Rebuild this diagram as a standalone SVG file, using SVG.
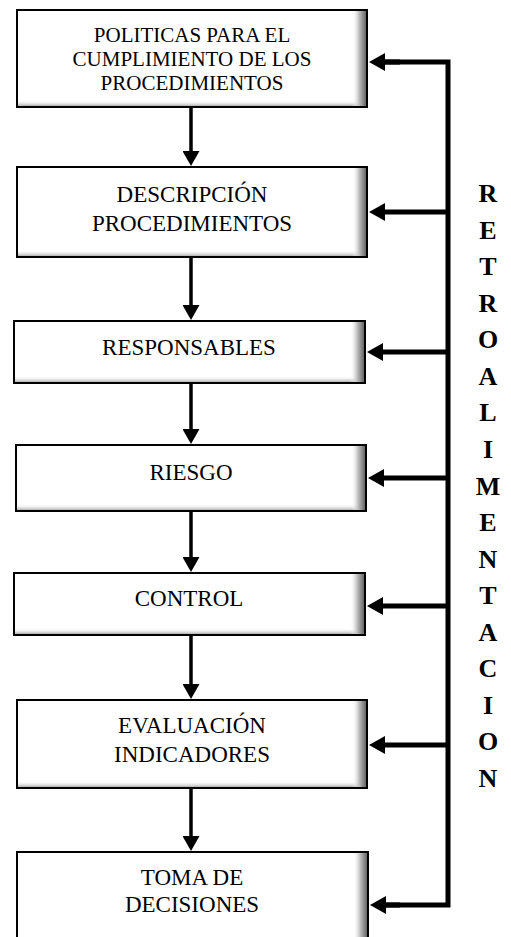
<svg xmlns="http://www.w3.org/2000/svg" width="511" height="937" viewBox="0 0 511 937">
<defs>
<style>
.box{fill:#fff;stroke:#000;stroke-width:2}
.sr{fill:url(#gr)}
.sb{fill:url(#gb)}
.t{font-family:"Liberation Serif","Times New Roman",serif;font-size:23px;fill:#000;text-anchor:middle}
.t1{font-size:21px}
.fb{font-family:"Liberation Serif","Times New Roman",serif;font-size:26px;font-weight:bold;fill:#000;text-anchor:middle}
.down{stroke:#000;stroke-width:3.5;fill:none;marker-end:url(#ah)}
.back{stroke:#000;stroke-width:5;fill:none;marker-end:url(#ah2)}
.trunk{stroke:#000;stroke-width:5;fill:none;stroke-linejoin:miter}
</style>
<linearGradient id="gr" x1="0" y1="0" x2="1" y2="0">
<stop offset="0" stop-color="#fff" stop-opacity="0"/>
<stop offset="0.5" stop-color="#c0c0c0"/>
<stop offset="1" stop-color="#666"/>
</linearGradient>
<linearGradient id="gb" x1="0" y1="0" x2="0" y2="1">
<stop offset="0" stop-color="#fff" stop-opacity="0"/>
<stop offset="1" stop-color="#b0b0b0"/>
</linearGradient>
<marker id="ah" viewBox="0 0 15 17" refX="1" refY="8.5" markerWidth="15" markerHeight="17" markerUnits="userSpaceOnUse" orient="auto">
<path d="M0,0 L15,8.5 L0,17 Z" fill="#000"/>
</marker>
<marker id="ah2" viewBox="0 0 16 18" refX="1" refY="9" markerWidth="16" markerHeight="18" markerUnits="userSpaceOnUse" orient="auto">
<path d="M0,0 L16,9 L0,18 Z" fill="#000"/>
</marker>
</defs>

<g id="n1">
<rect class="box" x="17" y="10" width="350" height="97"/>
<rect class="sb" x="18" y="100" width="348" height="6"/>
<rect class="sr" x="352" y="11" width="14" height="95"/>
<text class="t t1" x="192" y="42">POLITICAS PARA EL</text>
<text class="t t1" x="192" y="66">CUMPLIMIENTO DE LOS</text>
<text class="t t1" x="192" y="90">PROCEDIMIENTOS</text>
</g>

<g id="n2">
<rect class="box" x="17" y="167" width="350" height="90"/>
<rect class="sb" x="18" y="250" width="348" height="6"/>
<rect class="sr" x="352" y="168" width="14" height="88"/>
<text class="t" x="192" y="202">DESCRIPCIÓN</text>
<text class="t" x="192" y="231">PROCEDIMIENTOS</text>
</g>

<g id="n3">
<rect class="box" x="14" y="321" width="351" height="62"/>
<rect class="sb" x="15" y="376" width="349" height="6"/>
<rect class="sr" x="350" y="322" width="14" height="60"/>
<text class="t" x="189" y="355">RESPONSABLES</text>
</g>

<g id="n4">
<rect class="box" x="16" y="445" width="350" height="66"/>
<rect class="sb" x="17" y="504" width="348" height="6"/>
<rect class="sr" x="351" y="446" width="14" height="64"/>
<text class="t" x="191" y="480">RIESGO</text>
</g>

<g id="n5">
<rect class="box" x="14" y="573" width="351" height="62"/>
<rect class="sb" x="15" y="628" width="349" height="6"/>
<rect class="sr" x="350" y="574" width="14" height="60"/>
<text class="t" x="189" y="606">CONTROL</text>
</g>

<g id="n6">
<rect class="box" x="17" y="700" width="350" height="88"/>
<rect class="sb" x="18" y="781" width="348" height="6"/>
<rect class="sr" x="352" y="701" width="14" height="86"/>
<text class="t" x="192" y="733">EVALUACIÓN</text>
<text class="t" x="192" y="762">INDICADORES</text>
</g>

<g id="n7">
<rect class="box" x="17" y="852" width="351" height="100"/>
<rect class="sr" x="353" y="853" width="14" height="98"/>
<text class="t" x="192" y="885">TOMA DE</text>
<text class="t" x="192" y="912">DECISIONES</text>
</g>

<g id="connectors">
<path class="down" d="M191,108 V152"/>
<path class="down" d="M191,258 V306"/>
<path class="down" d="M191,384 V430"/>
<path class="down" d="M191,512 V558"/>
<path class="down" d="M191,636 V685"/>
<path class="down" d="M191,789 V837"/>
<path class="trunk" d="M384,62 H448 V905 H384"/>
<path class="back" d="M400,62 H384"/>
<path class="back" d="M448,212 H384"/>
<path class="back" d="M448,352 H382"/>
<path class="back" d="M448,478 H383"/>
<path class="back" d="M448,606 H382"/>
<path class="back" d="M448,745 H384"/>
<path class="back" d="M400,905 H385"/>
</g>

<g id="label">
<text class="fb" x="488" y="202">R</text>
<text class="fb" x="488" y="238.6">E</text>
<text class="fb" x="488" y="275.1">T</text>
<text class="fb" x="488" y="311.7">R</text>
<text class="fb" x="488" y="348.2">O</text>
<text class="fb" x="488" y="384.8">A</text>
<text class="fb" x="488" y="421.4">L</text>
<text class="fb" x="488" y="457.9">I</text>
<text class="fb" x="488" y="494.5">M</text>
<text class="fb" x="488" y="531">E</text>
<text class="fb" x="488" y="567.6">N</text>
<text class="fb" x="488" y="604.2">T</text>
<text class="fb" x="488" y="640.7">A</text>
<text class="fb" x="488" y="677.3">C</text>
<text class="fb" x="488" y="713.8">I</text>
<text class="fb" x="488" y="750.4">O</text>
<text class="fb" x="488" y="787">N</text>
</g>
</svg>
